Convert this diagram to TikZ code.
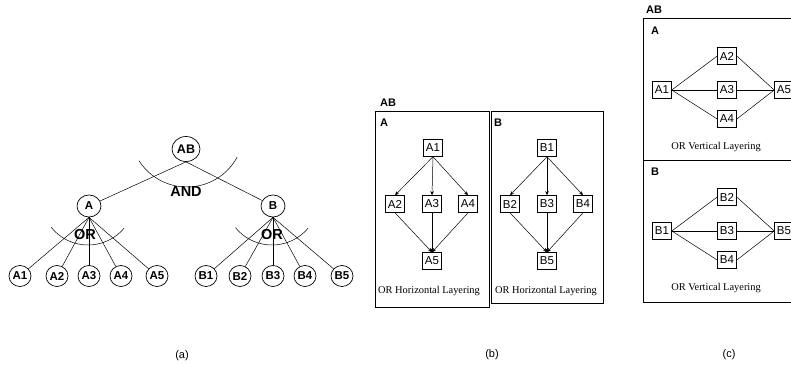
\documentclass[tikz,border=0pt]{standalone}
\usepackage{fontspec}
\setmainfont{Liberation Sans}
\newfontfamily\capfont{Liberation Serif}
\usetikzlibrary{shapes.geometric,arrows.meta}
\begin{document}
\begin{tikzpicture}[x=1pt,y=-1pt,
  tnode/.style={ellipse, draw, line width=0.7pt, inner sep=0pt, minimum width=22pt, minimum height=21pt, font=\bfseries\fontsize{11.5}{11.5}\selectfont},
  gate/.style={font=\bfseries\fontsize{14.5}{14.5}\selectfont, inner sep=0pt},
  lbox/.style={draw, line width=0.6pt, minimum width=19pt, minimum height=17pt, inner sep=1pt, font=\fontsize{11.5}{11.5}\selectfont},
  frame/.style={draw, line width=0.7pt, anchor=north west, inner sep=0pt},
  blabel/.style={font=\bfseries\fontsize{11}{11}\selectfont, inner sep=0pt},
  captext/.style={font=\capfont\fontsize{10.4}{10.4}\selectfont, inner sep=0pt},
  sub/.style={font=\fontsize{11}{11}\selectfont, inner sep=0pt},
  link/.style={line width=0.5pt},
  arr/.style={line width=0.5pt, -{Stealth[length=4pt,width=3.5pt]}}
]
\clip (0,0) rectangle (791,369);
\fill[white] (0,0) rectangle (791,369);

% ---------------- (a) AND/OR tree ----------------
\node[tnode, minimum width=28pt, minimum height=25pt, font=\bfseries\fontsize{12.5}{12.5}\selectfont] (AB) at (186,149) {AB};
\node[tnode, minimum width=24pt, minimum height=22pt] (A) at (89,206) {A};
\node[tnode, minimum width=24pt, minimum height=22pt] (B) at (273,206) {B};
\foreach \n/\x in {A1/20,A2/57,A3/89,A4/121,A5/157,B1/206,B2/240,B3/273,B4/305,B5/342}
  \node[tnode] (\n) at (\x,276) {\n};

\draw[link] (AB.south) -- (A);
\draw[link] (AB.south) -- (B);
\foreach \n in {A1,A2,A3,A4,A5} \draw[link] (A.south) -- (\n);
\foreach \n in {B1,B2,B3,B4,B5} \draw[link] (B.south) -- (\n);

\draw[link] plot[domain=28.4:147.4, samples=50] ({187+57*cos(\x)},{130+57*sin(\x)});
\draw[link] plot[domain=40:142, samples=50] ({88+47*cos(\x)},{198+47*sin(\x)});
\draw[link] plot[domain=40:141, samples=50] ({272+47*cos(\x)},{198+47*sin(\x)});

\node[gate] (and) at (186,192) {AND};
\node[gate] (orA) at (85,235) {OR};
\node[gate] (orB) at (272,235) {OR};

\node[sub] (la) at (182,356) {(a)};

% ---------------- (b) horizontal layering ----------------
\node[blabel] (bAB) at (388,103) {AB};
\node[frame, minimum width=114pt, minimum height=196pt] (bboxA) at (375,111) {};
\node[frame, minimum width=112pt, minimum height=192pt] (bboxB) at (491,111) {};
\node[blabel] (bA) at (384,123) {A};
\node[blabel] (bB) at (498,123) {B};

\node[lbox] (hA1) at (433,148) {A1};
\node[lbox] (hA2) at (395,204) {A2};
\node[lbox] (hA3) at (432,204) {A3};
\node[lbox] (hA4) at (468,204) {A4};
\node[lbox] (hA5) at (432,261) {A5};
\node[lbox] (hB1) at (547,148) {B1};
\node[lbox] (hB2) at (510,204) {B2};
\node[lbox] (hB3) at (547,204) {B3};
\node[lbox] (hB4) at (583,204) {B4};
\node[lbox] (hB5) at (547,261) {B5};

\foreach \t in {A2,A3,A4} {
  \draw[arr] (hA1.south) -- (h\t.north);
  \draw[arr] (h\t.south) -- (hA5.north);
}
\foreach \t in {B2,B3,B4} {
  \draw[arr] (hB1.south) -- (h\t.north);
  \draw[arr] (h\t.south) -- (hB5.north);
}
\node[captext] (capbA) at (429,291) {OR Horizontal Layering};
\node[captext] (capbB) at (546,291) {OR Horizontal Layering};

\node[sub] (lb) at (492,355) {(b)};

% ---------------- (c) vertical layering ----------------
\node[blabel] (cAB) at (654,10) {AB};
\node[frame, minimum width=170pt, minimum height=142pt] (cboxA) at (643,18) {};
\node[frame, minimum width=170pt, minimum height=142pt] (cboxB) at (643,160) {};
\node[blabel] (cA) at (655,31) {A};
\node[blabel] (cB) at (655,172) {B};

\node[lbox] (vA1) at (662,90) {A1};
\node[lbox] (vA2) at (727,56) {A2};
\node[lbox] (vA3) at (727,90) {A3};
\node[lbox] (vA4) at (727,119) {A4};
\node[lbox] (vA5) at (784,90) {A5};
\node[lbox] (vB1) at (662,231) {B1};
\node[lbox] (vB2) at (727,197) {B2};
\node[lbox] (vB3) at (727,231) {B3};
\node[lbox] (vB4) at (727,260) {B4};
\node[lbox] (vB5) at (784,231) {B5};

\foreach \t in {A2,A3,A4} {
  \draw[link] (vA1.east) -- (v\t.west);
  \draw[link] (v\t.east) -- (vA5.west);
}
\foreach \t in {B2,B3,B4} {
  \draw[link] (vB1.east) -- (v\t.west);
  \draw[link] (v\t.east) -- (vB5.west);
}
\node[captext] (capcA) at (716,147) {OR Vertical Layering};
\node[captext] (capcB) at (716,288) {OR Vertical Layering};

\node[sub] (lc) at (729,355) {(c)};
\end{tikzpicture}
\end{document}
